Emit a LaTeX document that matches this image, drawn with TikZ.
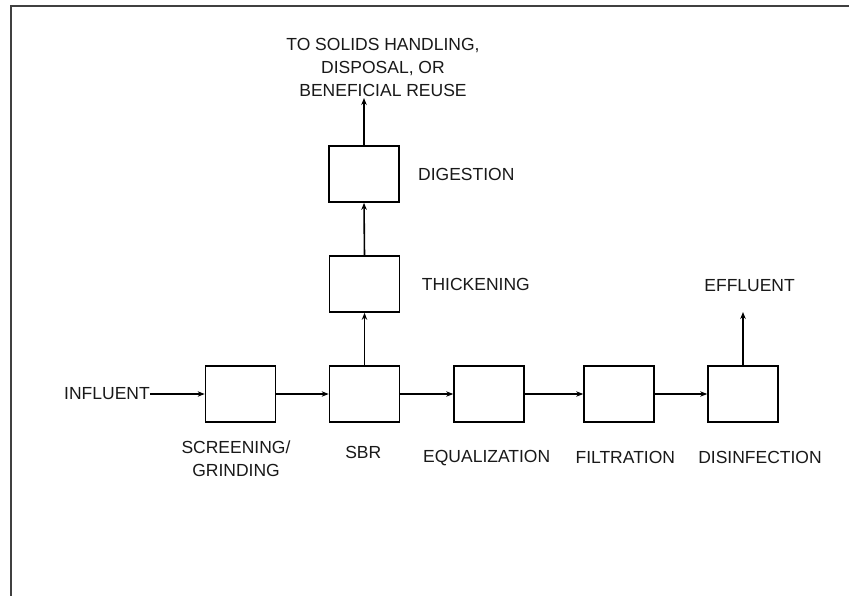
\documentclass[tikz,border=0pt]{standalone}
\usepackage{fontspec}
\setmainfont{Liberation Sans}
\usetikzlibrary{arrows.meta}
\begin{document}
\begin{tikzpicture}[x=1pt,y=-1pt,
  procbox/.style={draw=black,line width=1.7pt,minimum width=70pt,minimum height=56pt,inner sep=0pt},
  lbl/.style={inner sep=0pt,font=\fontsize{17.5}{23}\selectfont,text=black!90},
  flow/.style={line width=1.6pt,-{Stealth[length=7pt,width=5.5pt]}}]
\useasboundingbox (0,0) rectangle (849,596);
\fill[white] (0,0) rectangle (849,596);
\draw[line width=2pt,black!75] (10.5,596) -- (10.5,6.5) -- (849,6.5);
% boxes
\node[procbox] (scr) at (240.5,394) {};
\node[procbox] (sbr) at (364.5,394) {};
\node[procbox] (eq) at (489,394) {};
\node[procbox] (filt) at (619,394) {};
\node[procbox] (dis) at (743,394) {};
\node[procbox] (thick) at (364.5,284) {};
\node[procbox] (dig) at (364,174) {};
% labels
\node[lbl,anchor=base] (infl) at (107,399.3) {INFLUENT};
\node[lbl,align=center] (scrl) at (236,459) {SCREENING/\\GRINDING};
\node[lbl,anchor=base] (sbrl) at (363.3,458) {SBR};
\node[lbl,anchor=base] (eql) at (486.7,462.3) {EQUALIZATION};
\node[lbl,anchor=base] (filtl) at (625.3,463) {FILTRATION};
\node[lbl,anchor=base] (disl) at (760,463) {DISINFECTION};
\node[lbl,anchor=base west] (thickl) at (421.7,290.6) {THICKENING};
\node[lbl,anchor=base west] (digl) at (418,180.3) {DIGESTION};
\node[lbl,anchor=base] (effl) at (749.6,291.3) {EFFLUENT};
\node[lbl,align=center] (topl) at (383,67.7) {TO SOLIDS HANDLING,\\DISPOSAL, OR\\BENEFICIAL REUSE};
% free ends
\coordinate (efftip) at (743,312);
\coordinate (toptip) at (364,98);
% connectors
\draw[flow] (infl.east |- scr.west) -- (scr.west);
\draw[flow] (scr.east) -- (sbr.west);
\draw[flow] (sbr.east) -- (eq.west);
\draw[flow] (eq.east) -- (filt.west);
\draw[flow] (filt.east) -- (dis.west);
\draw[flow] (sbr.north) -- (thick.south);
\draw[flow] (thick.north) -- (dig.south);
\draw[flow] (dig.north) -- (toptip);
\draw[flow] (dis.north) -- (efftip);
\end{tikzpicture}
\end{document}
